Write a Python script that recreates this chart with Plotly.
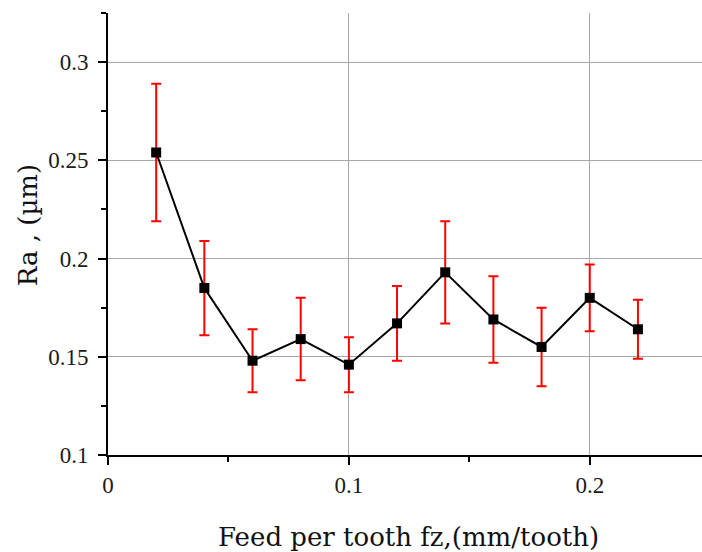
import plotly.graph_objects as go

feed = [0.02, 0.04, 0.06, 0.08, 0.10, 0.12, 0.14, 0.16, 0.18, 0.20, 0.22]
ra = [0.254, 0.185, 0.148, 0.159, 0.146, 0.167, 0.193, 0.169, 0.155, 0.180, 0.164]
ra_upper = [0.289, 0.209, 0.164, 0.180, 0.160, 0.186, 0.219, 0.191, 0.175, 0.197, 0.179]
ra_lower = [0.219, 0.161, 0.132, 0.138, 0.132, 0.148, 0.167, 0.147, 0.135, 0.163, 0.149]

err_plus = [u - v for u, v in zip(ra_upper, ra)]
err_minus = [v - l for v, l in zip(ra, ra_lower)]

FONT = "Liberation Serif"
TFONT = "DejaVu Serif"

fig = go.Figure()
fig.add_trace(go.Scatter(
    x=feed, y=ra, mode="lines+markers",
    line=dict(color="black", width=2),
    marker=dict(symbol="square", size=10, color="black"),
    error_y=dict(type="data", symmetric=False, array=err_plus, arrayminus=err_minus,
                 color="red", thickness=2, width=5),
    cliponaxis=False,
    showlegend=False,
))

axis_common = dict(
    showline=True, linecolor="black", linewidth=2,
    ticks="outside", ticklen=8, tickwidth=2, tickcolor="black",
    showgrid=True, gridcolor="#a8a8a8", gridwidth=1,
    zeroline=False, mirror=False,
    tickfont=dict(family=FONT, size=23, color="#1a1a1a"),
)

fig.update_layout(
    width=702, height=552,
    margin=dict(l=108, r=0, t=13, b=97),
    plot_bgcolor="white", paper_bgcolor="white",
    xaxis=dict(range=[0, 0.2466], tick0=0, dtick=0.1,
               minor=dict(dtick=0.05, tick0=0, ticks="outside", ticklen=5, tickwidth=2, tickcolor="black", showgrid=False),
               **axis_common),
    yaxis=dict(range=[0.1, 0.325], tick0=0.1, dtick=0.05, ticklabelstandoff=5,
               minor=dict(dtick=0.025, tick0=0.1, ticks="outside", ticklen=5, tickwidth=2, tickcolor="black", showgrid=False),
               **axis_common),
    annotations=[
        dict(text="Feed per tooth fz,(mm/tooth)", xref="paper", yref="paper",
             x=0.506, y=0, yshift=-82, showarrow=False, xanchor="center", yanchor="middle",
             font=dict(family=TFONT, size=26, color="#111")),
        dict(text="Ra , (µm)", xref="paper", yref="paper", textangle=-90,
             x=0, xshift=-80, y=0.52, showarrow=False, xanchor="center", yanchor="middle",
             font=dict(family=TFONT, size=26, color="#111")),
    ],
)

fig.write_html("out.html")
